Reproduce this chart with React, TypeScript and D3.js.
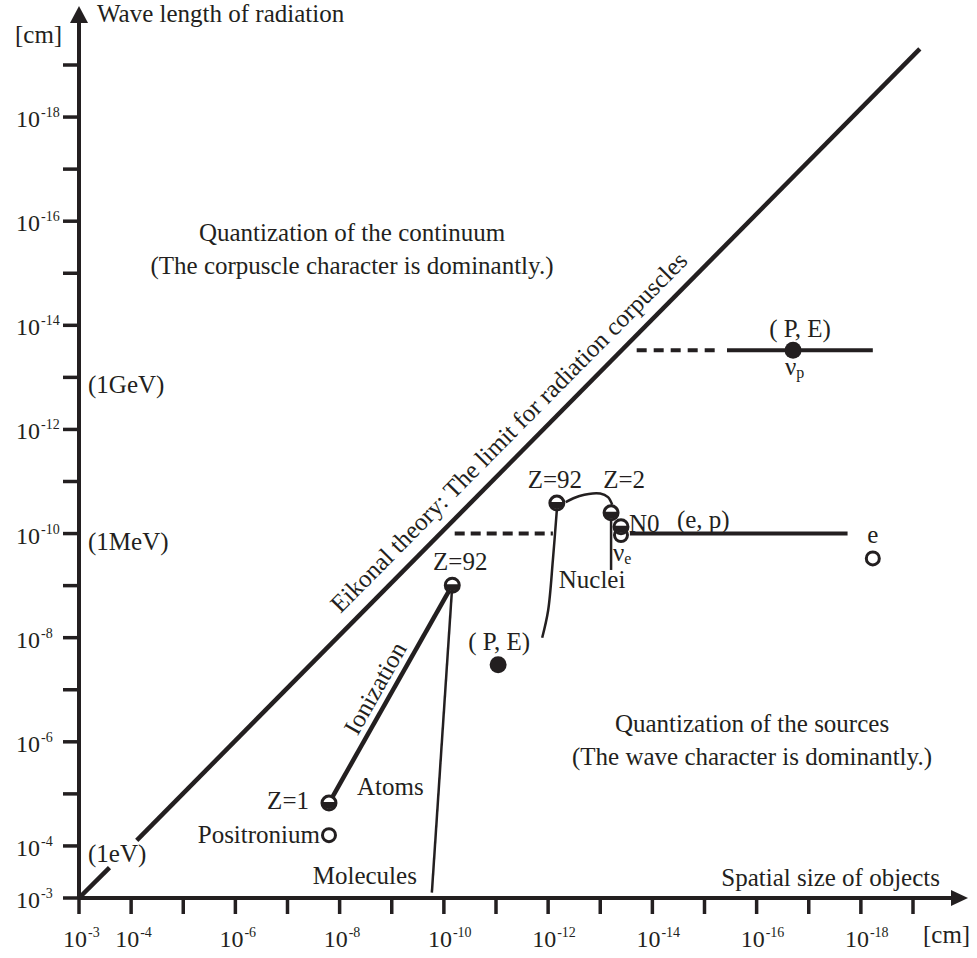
import React from 'react';
import * as d3 from 'd3';

const INK = '#231f20';
const FONT = '"Liberation Serif", "Times New Roman", serif';

// axis ticks: 10^-3 ... 10^-19 cm on both axes
const tickValues = d3.range(3, 20).map(n => Math.pow(10, -n));
const labelExponents = [3, 4, 6, 8, 10, 12, 14, 16, 18];

// energy marks on the wave length axis
const energyLabels = ['(1eV)', '(1MeV)', '(1GeV)'];
const energyWaves = [1e-4, 1e-10, 1e-13];

// eikonal limit (wave length == size), broken for the (1eV) label
const eikonalLow = [[1e-3, 1e-3], [2.6e-4, 2.6e-4]];
const eikonalHigh = [[7.8e-5, 7.8e-5], [7.4e-20, 4.9e-20]];

// atoms & molecules  [size, wave length]
const atomZ1 = [1.6e-8, 1.5e-5];
const positronium = [1.6e-8, 6.2e-5];
const atomZ92 = [6.9e-11, 9.8e-10];
const moleculesEnd = [1.7e-10, 7.9e-4];

// nuclei
const nucleusZ92 = [6.8e-13, 2.6e-11];
const nucleusZ2 = [6.2e-14, 4.0e-11];
const neutron = [4.0e-14, 7.4e-11];
const nuE = [4.0e-14, 1.07e-10];
const nucleiCurve = [[6.8e-13, 3.5e-11], [8.1e-13, 3.2e-10], [1.0e-12, 3.0e-9], [1.3e-12, 1.0e-8]];
const nucleiArc = [[4.6e-13, 2.5e-11], [2.5e-13, 1.9e-11], [1.0e-13, 1.7e-11], [7.1e-14, 2.0e-11], [5.9e-14, 2.8e-11]];
const z2Drop = [[6.2e-14, 4.0e-11], [6.2e-14, 5.0e-10]];
const nucleiDash = [[6.2e-11, 1e-10], [8.1e-13, 1e-10]];
const epLine = [[2.7e-14, 1e-10], [1.8e-18, 1e-10]];
const electron = [5.9e-19, 3.0e-10];

// (P, E)
const peLow = [9.1e-12, 3.3e-8];
const peHigh = [2.0e-17, 3.0e-14];
const peHighDash = [[2.0e-14, 3.0e-14], [5.8e-16, 3.0e-14]];
const peHighLine = [[3.7e-16, 3.0e-14], [5.9e-19, 3.0e-14]];

const x = d3.scaleLog().domain([1e-3, 1e-19]).range([79, 913]);
const y = d3.scaleLog().domain([1e-3, 1e-19]).range([898, 65]);

const line = d3.line<number[]>().x(d => x(d[0])).y(d => y(d[1]));
const smooth = d3.line<number[]>().x(d => x(d[0])).y(d => y(d[1])).curve(d3.curveCatmullRom);

const T = (props: any) => (
  <text fontFamily={FONT} fontSize={25} fill={INK} {...props} />
);

const HalfDot = ({ p }: { p: number[] }) => {
  const cx = x(p[0]), cy = y(p[1]), r = 7;
  return (
    <g>
      <circle cx={cx} cy={cy} r={r} fill="#fff" stroke={INK} strokeWidth={3} />
      <path d={`M${cx - r},${cy - 1} A${r},${r} 0 0 0 ${cx + r},${cy - 1} Z`} fill={INK} />
    </g>
  );
};

const OpenDot = ({ p }: { p: number[] }) => (
  <circle cx={x(p[0])} cy={y(p[1])} r={6.5} fill="#fff" stroke={INK} strokeWidth={3} />
);

const Dot = ({ p }: { p: number[] }) => (
  <circle cx={x(p[0])} cy={y(p[1])} r={8.5} fill={INK} />
);

const along = (a: number[], b: number[], t: number, off: number, text: string) => {
  const ax = x(a[0]), ay = y(a[1]), bx = x(b[0]), by = y(b[1]);
  const px = ax + (bx - ax) * t, py = ay + (by - ay) * t;
  const ang = (Math.atan2(by - ay, bx - ax) * 180) / Math.PI;
  return (
    <T transform={`translate(${px},${py}) rotate(${ang})`} y={off} textAnchor="middle">{text}</T>
  );
};

export default function App() {
  const x0 = x(1e-3), y0 = y(1e-3);
  return (
    <svg width={977} height={958} style={{ position: 'absolute', left: 0, top: 0, background: '#fff' }}>
      {/* axes */}
      <line x1={x0} y1={y0} x2={x0} y2={20} stroke={INK} strokeWidth={4} />
      <path d={`M${x0},6 L${x0 - 9},23 L${x0 + 9},23 Z`} fill={INK} />
      <line x1={x0} y1={y0} x2={953} y2={y0} stroke={INK} strokeWidth={4} />
      <path d={`M968,${y0} L951,${y0 - 8} L951,${y0 + 8} Z`} fill={INK} />
      {tickValues.map((v, i) => (
        <g key={i}>
          <line x1={x(v)} x2={x(v)} y1={y0} y2={y0 + 16} stroke={INK} strokeWidth={3.5} />
          <line x1={x0 - 16} x2={x0} y1={y(v)} y2={y(v)} stroke={INK} strokeWidth={3.5} />
        </g>
      ))}
      {labelExponents.map(n => {
        const v = Math.pow(10, -n);
        return (
          <g key={n}>
            <T x={x(v) + 8} y={947} textAnchor="end" fontSize={24}>10</T>
            <T x={x(v) + 9} y={937} fontSize={14}>{`-${n}`}</T>
            <T x={40} y={y(v) + 10} textAnchor="end" fontSize={24}>10</T>
            <T x={41} y={y(v)} fontSize={14}>{`-${n}`}</T>
          </g>
        );
      })}
      <T x={97} y={22}>Wave length of radiation</T>
      <T x={15} y={43}>[cm]</T>
      <T x={940} y={886} textAnchor="end">Spatial size of objects</T>
      <T x={923} y={943}>[cm]</T>
      {energyLabels.map((s, i) => (
        <T key={s} x={88} y={y(energyWaves[i]) + 16}>{s}</T>
      ))}

      {/* region captions */}
      <T x={352} y={241} textAnchor="middle">Quantization of the continuum</T>
      <T x={352} y={274} textAnchor="middle">(The corpuscle character is dominantly.)</T>
      <T x={752} y={732} textAnchor="middle">Quantization of the sources</T>
      <T x={752} y={765} textAnchor="middle">(The wave character is dominantly.)</T>

      {/* eikonal limit */}
      <path d={line(eikonalLow) || ''} stroke={INK} strokeWidth={4.5} fill="none" />
      <path d={line(eikonalHigh) || ''} stroke={INK} strokeWidth={4.5} fill="none" />
      {along(eikonalLow[0], eikonalHigh[1], 0.53, -14, 'Eikonal theory: The limit for radiation corpuscles')}

      {/* atoms */}
      <path d={line([atomZ1, atomZ92]) || ''} stroke={INK} strokeWidth={4.5} fill="none" />
      <path d={line([atomZ92, moleculesEnd]) || ''} stroke={INK} strokeWidth={2.5} fill="none" />
      {along(atomZ1, atomZ92, 0.49, -8, 'Ionization')}
      <HalfDot p={atomZ1} />
      <OpenDot p={positronium} />
      <HalfDot p={atomZ92} />
      <T x={x(atomZ92[0]) + 8} y={y(atomZ92[1]) - 15} textAnchor="middle">Z=92</T>
      <T x={x(atomZ1[0]) - 20} y={y(atomZ1[1]) + 6} textAnchor="end">Z=1</T>
      <T x={x(positronium[0]) - 9} y={y(positronium[1]) + 8} textAnchor="end">Positronium</T>
      <T x={x(atomZ1[0]) + 28} y={y(atomZ1[1]) - 8}>Atoms</T>
      <T x={x(moleculesEnd[0]) - 15} y={y(moleculesEnd[1]) - 9} textAnchor="end">Molecules</T>

      {/* nuclei */}
      <path d={line(nucleiDash) || ''} stroke={INK} strokeWidth={4} strokeDasharray="10 6" fill="none" />
      <path d={smooth(nucleiCurve) || ''} stroke={INK} strokeWidth={2.5} fill="none" />
      <path d={smooth(nucleiArc) || ''} stroke={INK} strokeWidth={2.5} fill="none" />
      <path d={line(z2Drop) || ''} stroke={INK} strokeWidth={2.5} fill="none" />
      <path d={line(epLine) || ''} stroke={INK} strokeWidth={4} fill="none" />
      <HalfDot p={nucleusZ92} />
      <HalfDot p={nucleusZ2} />
      <OpenDot p={nuE} />
      <HalfDot p={neutron} />
      <OpenDot p={electron} />
      <Dot p={peLow} />
      <T x={x(nucleusZ92[0]) - 2} y={y(nucleusZ92[1]) - 15} textAnchor="middle">Z=92</T>
      <T x={x(nucleusZ2[0]) + 13} y={y(nucleusZ2[1]) - 25} textAnchor="middle">Z=2</T>
      <T x={x(neutron[0]) + 8} y={y(neutron[1]) + 5}>N0</T>
      <T x={x(epLine[0][0]) + 47} y={y(epLine[0][1]) - 6}>(e, p)</T>
      <T x={x(nuE[0]) - 8} y={y(nuE[1]) + 26}>ν<tspan fontSize={16} dy={3}>e</tspan></T>
      <T x={x(z2Drop[1][0]) - 19} y={y(z2Drop[1][1]) + 18} textAnchor="middle">Nuclei</T>
      <T x={x(electron[0])} y={y(electron[1]) - 15} textAnchor="middle">e</T>
      <T x={x(peLow[0]) + 1} y={y(peLow[1]) - 15} textAnchor="middle">( P, E)</T>

      {/* (P, E) high */}
      <path d={line(peHighDash) || ''} stroke={INK} strokeWidth={4} strokeDasharray="10 7" fill="none" />
      <path d={line(peHighLine) || ''} stroke={INK} strokeWidth={4} fill="none" />
      <Dot p={peHigh} />
      <T x={x(peHigh[0]) + 7} y={y(peHigh[1]) - 13} textAnchor="middle">( P, E)</T>
      <T x={x(peHigh[0]) - 8} y={y(peHigh[1]) + 25}>ν<tspan fontSize={16} dy={3}>p</tspan></T>
    </svg>
  );
}
